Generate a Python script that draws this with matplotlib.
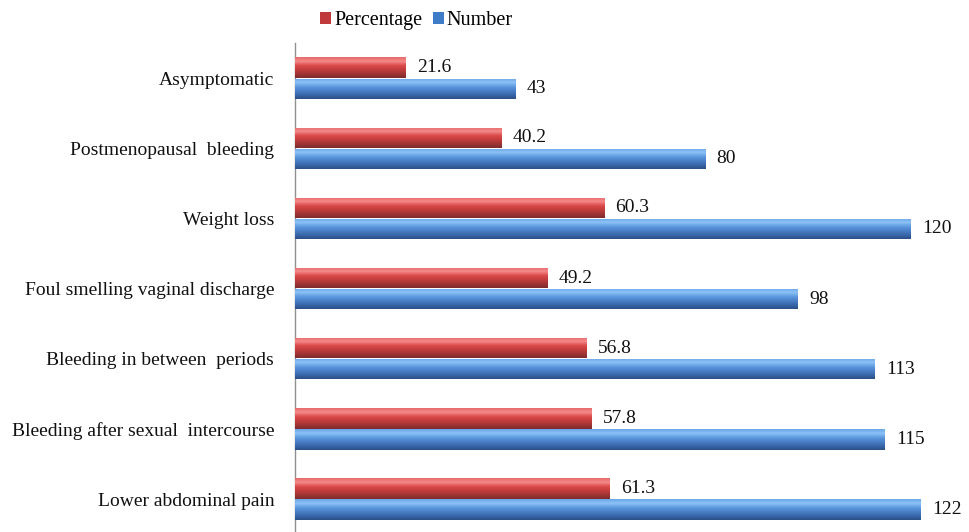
import matplotlib
matplotlib.use("Agg")
import matplotlib.pyplot as plt
import numpy as np
from matplotlib.colors import LinearSegmentedColormap

categories = ["Asymptomatic", "Postmenopausal  bleeding", "Weight loss",
              "Foul smelling vaginal discharge", "Bleeding in between  periods",
              "Bleeding after sexual  intercourse", "Lower abdominal pain"]
percentage = [21.6, 40.2, 60.3, 49.2, 56.8, 57.8, 61.3]
number = [43, 80, 120, 98, 113, 115, 122]
pct_labels = ["21.6", "40.2", "60.3", "49.2", "56.8", "57.8", "61.3"]
num_labels = ["43", "80", "120", "98", "113", "115", "122"]

plt.rcParams['font.family'] = ['Liberation Serif', 'DejaVu Serif']

fig = plt.figure(figsize=(9.69, 5.32), dpi=100)
ax = fig.add_axes([0.3045, -0.004, 0.688, 0.923])

y = np.arange(len(categories))
h = 0.29
off = 0.15
red_bars = ax.barh(y - off, percentage, height=h, color="#c0393b", label="Percentage", zorder=2)
blue_bars = ax.barh(y + off, number, height=h, color="#3f7cc8", label="Number", zorder=2)

red_cmap = LinearSegmentedColormap.from_list("r", ["#e86a6a", "#f48a8a", "#dc4c4c", "#c43c3c", "#a03434", "#7e2c2c"])
blue_cmap = LinearSegmentedColormap.from_list("b", ["#6aa6e8", "#8cc2f6", "#5e9ae0", "#4a80c8", "#3a68ac", "#2c4f86"])
grad = np.linspace(0, 1, 64).reshape(-1, 1)
for bars, cmap in ((red_bars, red_cmap), (blue_bars, blue_cmap)):
    for p in bars:
        x0, y0 = p.get_x(), p.get_y()
        w, hh = p.get_width(), p.get_height()
        im = ax.imshow(grad, cmap=cmap, aspect="auto", extent=(x0, x0 + w, y0 + hh, y0),
                       origin="upper", zorder=3, interpolation="bilinear")
        im.set_clip_path(p)

fs = 14
for i in range(len(categories)):
    ax.text(percentage[i] + 2.2, y[i] - off, pct_labels[i], va="center", ha="left",
            fontsize=fs, color="#111111")
    ax.text(number[i] + 2.2, y[i] + off, num_labels[i], va="center", ha="left",
            fontsize=fs, color="#111111")

ax.set_xlim(0, 130)
ax.set_ylim(len(categories) - 0.5, -0.5)
ax.set_yticks(y)
ax.set_yticklabels(categories, fontsize=fs, color="#111111")
ax.tick_params(axis="y", length=0, pad=15)
ax.set_xticks([])
for s in ["top", "right", "bottom"]:
    ax.spines[s].set_visible(False)
ax.spines["left"].set_color("#909090")
ax.spines["left"].set_linewidth(1.0)

leg = fig.legend(handles=[red_bars, blue_bars], labels=["Percentage", "Number"],
                 loc="center", bbox_to_anchor=(0.43, 0.962), ncol=2, frameon=False,
                 prop={"size": 14.5}, handlelength=0.55, handleheight=0.55, handletextpad=0.15,
                 columnspacing=0.5)

fig.savefig("out.png", dpi=100)
